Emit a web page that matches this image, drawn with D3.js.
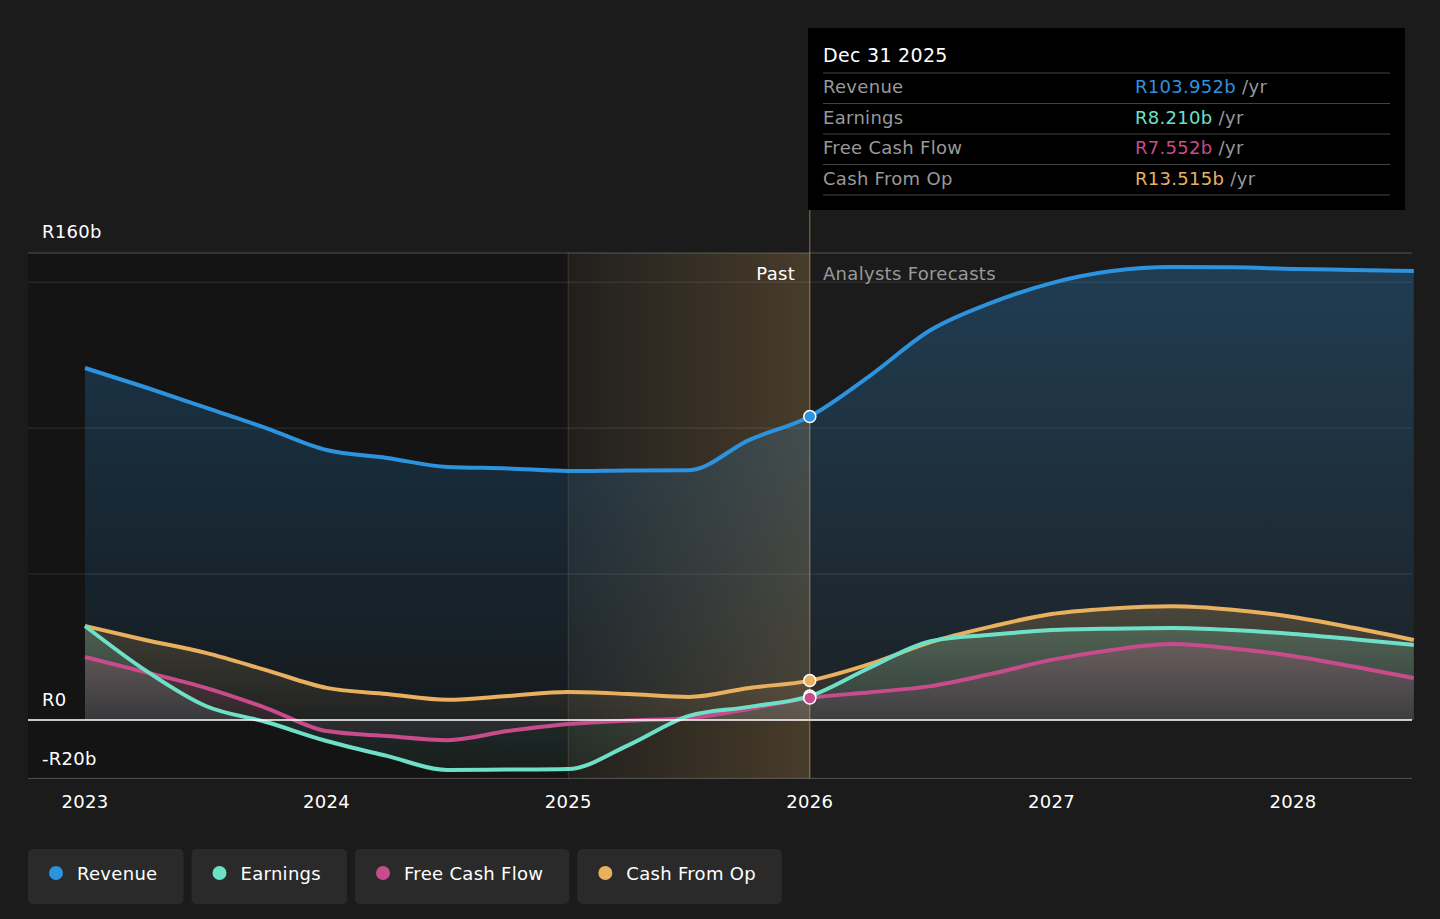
<!DOCTYPE html><html><head><meta charset="utf-8">
<script src="https://cdn.jsdelivr.net/npm/d3@7"></script>
<style>body{margin:0;background:#1b1b1b;font-family:"DejaVu Sans",sans-serif}text{letter-spacing:0.3px}</style></head><body>
<svg id="c" width="1440" height="919"></svg>
<script>
const years=[2023,2023.25,2023.5,2023.75,2024,2024.25,2024.5,2024.75,2025,2025.25,2025.5,2025.75,2026,2026.25,2026.5,2026.75,2027,2027.25,2027.5,2027.75,2028,2028.25,2028.5];
const revenue=[120.6,114,107,100,92.5,89.8,86.7,86.2,85.3,85.5,85.6,96,104,118,133.6,142.9,149.7,153.8,155.2,155.1,154.5,154.2,153.8];
const earnings=[32.2,17,4.8,-0.7,-7.2,-12.3,-17.1,-17,-16.8,-8.6,1.4,4.5,8.2,18,27,29.2,30.8,31.3,31.5,30.8,29.5,27.7,25.7];
const fcf=[21.6,16.4,11,4.1,-3.8,-5.5,-6.9,-3.8,-1.4,-0.2,0.7,3.8,7.55,9.5,11.6,15.8,20.6,24,26,24.5,21.9,18.3,14.4];
const cfo=[32.2,27.4,23,17.1,11,8.9,6.9,8.2,9.6,8.9,7.9,11,13.5,19.2,26.7,32,36.3,38.2,39,37.8,35.3,31.6,27.4];
const yTicks=[0,50,100,150];
const series=[["Revenue",revenue,"#2d93df"],["Earnings",earnings,"#6fe0c8"],["Free Cash Flow",fcf,"#c84b8c"],["Cash From Op",cfo,"#e8b05f"]];
const tipVals=["R103.952b","R8.210b","R7.552b","R13.515b"];
const svg=d3.select("#c");
const x=d3.scaleLinear().domain([2023,2028]).range([85,1293]);
const y=d3.scaleLinear().domain([0,160]).range([720,253]);
const defs=svg.append("defs");
svg.append("rect").attr("x",28).attr("y",253).attr("width",x(2025)-28).attr("height",y(-20)-253).attr("fill","#141414");
const g=defs.append("linearGradient").attr("id","hl");
g.append("stop").attr("offset","0").attr("stop-color","#e8b05f").attr("stop-opacity",0.03);
g.append("stop").attr("offset","1").attr("stop-color","#e8b05f").attr("stop-opacity",0.22);
svg.append("rect").attr("x",x(2025)).attr("y",253).attr("width",x(2026)-x(2025)).attr("height",y(-20)-253).attr("fill","url(#hl)");
svg.append("line").attr("x1",x(2025)).attr("x2",x(2025)).attr("y1",253).attr("y2",y(-20)).attr("stroke","#e8b05f").attr("stroke-opacity",0.2);
yTicks.forEach(t=>svg.append("line").attr("x1",28).attr("x2",1412).attr("y1",y(t)).attr("y2",y(t)).attr("stroke","#fff").attr("stroke-opacity",0.12));
svg.append("line").attr("x1",28).attr("x2",1412).attr("y1",y(160)).attr("y2",y(160)).attr("stroke","#fff").attr("stroke-opacity",0.25);
svg.append("line").attr("x1",28).attr("x2",1412).attr("y1",y(-20)).attr("y2",y(-20)).attr("stroke","#fff").attr("stroke-opacity",0.25);
series.forEach(([n,v,c],i)=>{
 const gr=defs.append("linearGradient").attr("id","a"+i).attr("x1",0).attr("x2",0).attr("y1",0).attr("y2",1);
 gr.append("stop").attr("offset","0").attr("stop-color",c).attr("stop-opacity",i==0?0.28:0.22);
 gr.append("stop").attr("offset","1").attr("stop-color",c).attr("stop-opacity",0.05);
 const area=d3.area().x((d,j)=>x(years[j])).y0(y(0)).y1(d=>y(d)).curve(d3.curveMonotoneX);
 svg.append("path").datum(v).attr("d",area).attr("fill","url(#a"+i+")");
});
series.slice().reverse().forEach(([n,v,c])=>{
 const line=d3.line().x((d,j)=>x(years[j])).y(d=>y(d)).curve(d3.curveMonotoneX);
 svg.append("path").datum(v).attr("d",line).attr("fill","none").attr("stroke",c).attr("stroke-width",4);
});
svg.append("line").attr("x1",28).attr("x2",1412).attr("y1",y(0)).attr("y2",y(0)).attr("stroke","#fff").attr("stroke-width",1.5);
svg.append("line").attr("x1",x(2026)).attr("x2",x(2026)).attr("y1",210).attr("y2",y(-20)).attr("stroke","#e8b05f").attr("stroke-opacity",0.6);
const i26=years.indexOf(2026);
[revenue,cfo,earnings,fcf].forEach((v,k)=>{const c=[series[0][2],series[3][2],series[1][2],series[2][2]][k];
 svg.append("circle").attr("cx",x(2026)).attr("cy",y(v[i26])).attr("r",6).attr("fill",c).attr("stroke","#fff").attr("stroke-width",1.5);});
const T=(xx,yy,t,f,s,a)=>svg.append("text").attr("x",xx).attr("y",yy).text(t).attr("fill",f).attr("font-size",s||18).attr("text-anchor",a||"start");
T(42,238,"R160b","#fff");T(42,706,"R0","#fff");T(42,765,"-R20b","#fff");
[2023,2024,2025,2026,2027,2028].forEach(t=>T(x(t),808,t,"#fff",18,"middle"));
T(795,280,"Past","#fff",18,"end");T(823,280,"Analysts Forecasts","#999");
svg.append("rect").attr("x",808).attr("y",28).attr("width",597).attr("height",182).attr("fill","#000");
T(823,62,"Dec 31 2025","#fff",19);
series.forEach(([n,v,c],i)=>{const yy=93+i*30.5;
 svg.append("line").attr("x1",823).attr("x2",1390).attr("y1",yy-20).attr("y2",yy-20).attr("stroke","#444");
 T(823,yy,n,"#999",18);
 const t=T(1135,yy,"", c,18);t.append("tspan").text(tipVals[i]);t.append("tspan").attr("fill","#999").text(" /yr");});
svg.append("line").attr("x1",823).attr("x2",1390).attr("y1",195).attr("y2",195).attr("stroke","#444");
let lx=28;
series.forEach(([n,v,c])=>{
 const r=svg.append("rect").attr("x",lx).attr("y",849).attr("height",55).attr("rx",5).attr("fill","#2a2a2a");
 svg.append("circle").attr("cx",lx+28).attr("cy",873).attr("r",7).attr("fill",c);
 const t=T(lx+49,880,n,"#fff",18);
 const w=t.node().getComputedTextLength()+49+26;
 r.attr("width",w);lx+=w+8;});
</script></body></html>
